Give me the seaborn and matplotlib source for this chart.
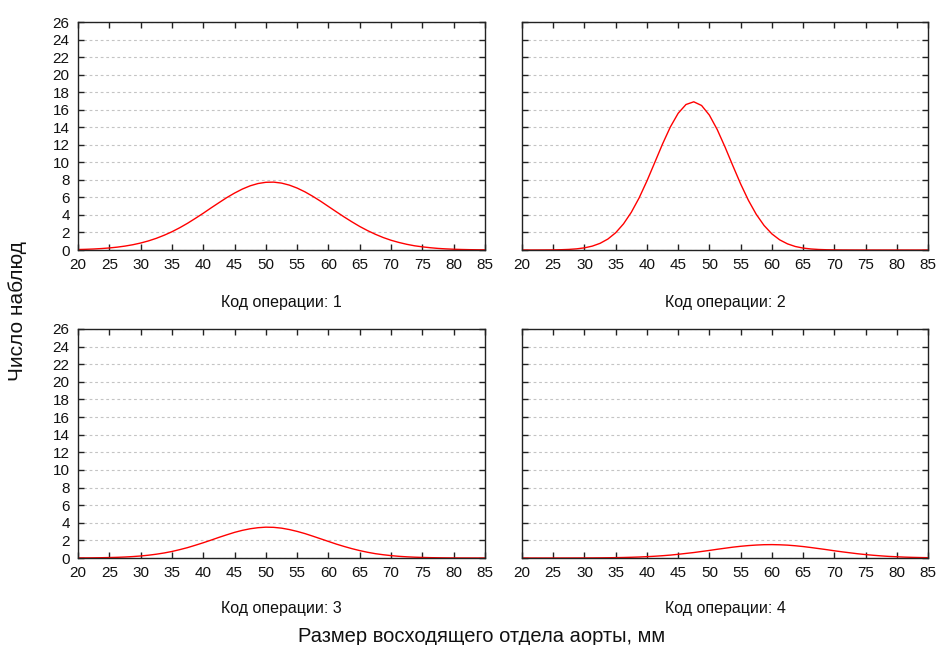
import matplotlib
matplotlib.use("Agg")
import matplotlib.pyplot as plt
import seaborn as sns
import pandas as pd

# Aorta size (mm) sample positions
size_mm = [20.0, 21.25, 22.5, 23.75, 25.0, 26.25, 27.5, 28.75, 30.0, 31.25,
           32.5, 33.75, 35.0, 36.25, 37.5, 38.75, 40.0, 41.25, 42.5, 43.75,
           45.0, 46.25, 47.5, 48.75, 50.0, 51.25, 52.5, 53.75, 55.0, 56.25,
           57.5, 58.75, 60.0, 61.25, 62.5, 63.75, 65.0, 66.25, 67.5, 68.75,
           70.0, 71.25, 72.5, 73.75, 75.0, 76.25, 77.5, 78.75, 80.0, 81.25,
           82.5, 83.75, 85.0]

# Expected counts (fitted normal curves) per operation code
op1 = [0.053, 0.078, 0.114, 0.165, 0.233, 0.325, 0.445, 0.600, 0.795, 1.037,
       1.33, 1.68, 2.08, 2.54, 3.05, 3.61, 4.19, 4.80, 5.39, 5.97,
       6.49, 6.95, 7.32, 7.58, 7.72, 7.74, 7.63, 7.40, 7.06, 6.63,
       6.12, 5.56, 4.96, 4.36, 3.77, 3.21, 2.68, 2.21, 1.79, 1.42,
       1.11, 0.86, 0.65, 0.48, 0.36, 0.26, 0.18, 0.127, 0.087, 0.059,
       0.039, 0.026, 0.016]
op2 = [0.001, 0.002, 0.004, 0.008, 0.015, 0.033, 0.067, 0.131, 0.246, 0.442,
       0.76, 1.25, 1.97, 2.98, 4.30, 5.94, 7.87, 9.97, 12.09, 14.03,
       15.59, 16.59, 16.90, 16.48, 15.38, 13.74, 11.75, 9.62, 7.54, 5.66,
       4.07, 2.80, 1.84, 1.16, 0.70, 0.40, 0.22, 0.118, 0.060, 0.029,
       0.014, 0.006, 0.003, 0.001, 0.0, 0.0, 0.0, 0.0, 0.0, 0.0,
       0.0, 0.0, 0.0]
op3 = [0.008, 0.013, 0.021, 0.033, 0.051, 0.076, 0.112, 0.162, 0.229, 0.317,
       0.43, 0.57, 0.74, 0.95, 1.18, 1.45, 1.73, 2.03, 2.34, 2.63,
       2.91, 3.14, 3.32, 3.44, 3.50, 3.48, 3.39, 3.23, 3.02, 2.77,
       2.48, 2.18, 1.88, 1.58, 1.31, 1.06, 0.84, 0.65, 0.49, 0.37,
       0.27, 0.19, 0.134, 0.092, 0.062, 0.040, 0.026, 0.016, 0.010, 0.006,
       0.004, 0.002, 0.001]
op4 = [0.0001, 0.0002, 0.0004, 0.0007, 0.0012, 0.002, 0.0033, 0.0052, 0.0082, 0.0126,
       0.019, 0.028, 0.041, 0.058, 0.082, 0.112, 0.152, 0.20, 0.26, 0.33,
       0.42, 0.52, 0.62, 0.74, 0.86, 0.99, 1.11, 1.23, 1.33, 1.41,
       1.47, 1.51, 1.52, 1.50, 1.46, 1.39, 1.30, 1.19, 1.07, 0.95,
       0.82, 0.70, 0.59, 0.48, 0.39, 0.31, 0.24, 0.18, 0.14, 0.10,
       0.073, 0.052, 0.036]

panel_titles = ["Код операции: 1", "Код операции: 2",
                "Код операции: 3", "Код операции: 4"]
x_ticks = [20, 25, 30, 35, 40, 45, 50, 55, 60, 65, 70, 75, 80, 85]
y_ticks = [0, 2, 4, 6, 8, 10, 12, 14, 16, 18, 20, 22, 24, 26]
x_label = "Размер восходящего отдела аорты, мм"
y_label = "Число наблюд"

sns.set_style("ticks")
plt.rcParams['font.family'] = ['Liberation Sans', 'DejaVu Sans']

W, H = 940, 645
fig = plt.figure(figsize=(W / 100, H / 100), dpi=100)

# pixel boxes: left, right, top, bottom
boxes = [(78, 485, 22, 250), (522, 928, 22, 250),
         (78, 485, 329, 558), (522, 928, 329, 558)]
title_y = [302, 302, 609, 609]
series = [op1, op2, op3, op4]

for i, (vals, box, title) in enumerate(zip(series, boxes, panel_titles)):
    l, r, t, b = box
    ax = fig.add_axes([l / W, 1 - b / H, (r - l) / W, (b - t) / H])
    df = pd.DataFrame({"size": size_mm, "count": vals})
    sns.lineplot(data=df, x="size", y="count", ax=ax, color="#ff0000",
                 linewidth=1.0, estimator=None, sort=True)
    ax.set_xlim(20, 85)
    ax.set_ylim(0, 26)
    ax.set_xticks(x_ticks)
    ax.set_yticks(y_ticks)
    ax.set_xlabel("")
    ax.set_ylabel("")
    ax.tick_params(direction="in", top=True, right=True, length=4, width=1,
                   labelsize=11, color="#222222", labelcolor="#111111", pad=6)
    if i % 2 == 1:
        ax.tick_params(labelleft=False)
    ax.grid(axis="y", linestyle=(0, (2.5, 2.5)), color="#c4c4c4", linewidth=0.8)
    ax.grid(axis="x", visible=False)
    for s in ax.spines.values():
        s.set_color("#222222")
        s.set_linewidth(1.0)
    fig.text(((l + r) / 2) / W, 1 - title_y[i] / H, title,
             ha="center", va="center", fontsize=11.5, color="#111111")

fig.text(482 / W, 1 - 636 / H, x_label, ha="center", va="center",
         fontsize=14.5, color="#111111")
fig.text(18 / W, 1 - 311 / H, y_label, ha="center", va="center",
         rotation=90, fontsize=15, color="#111111")

fig.savefig("out.png", dpi=100)
